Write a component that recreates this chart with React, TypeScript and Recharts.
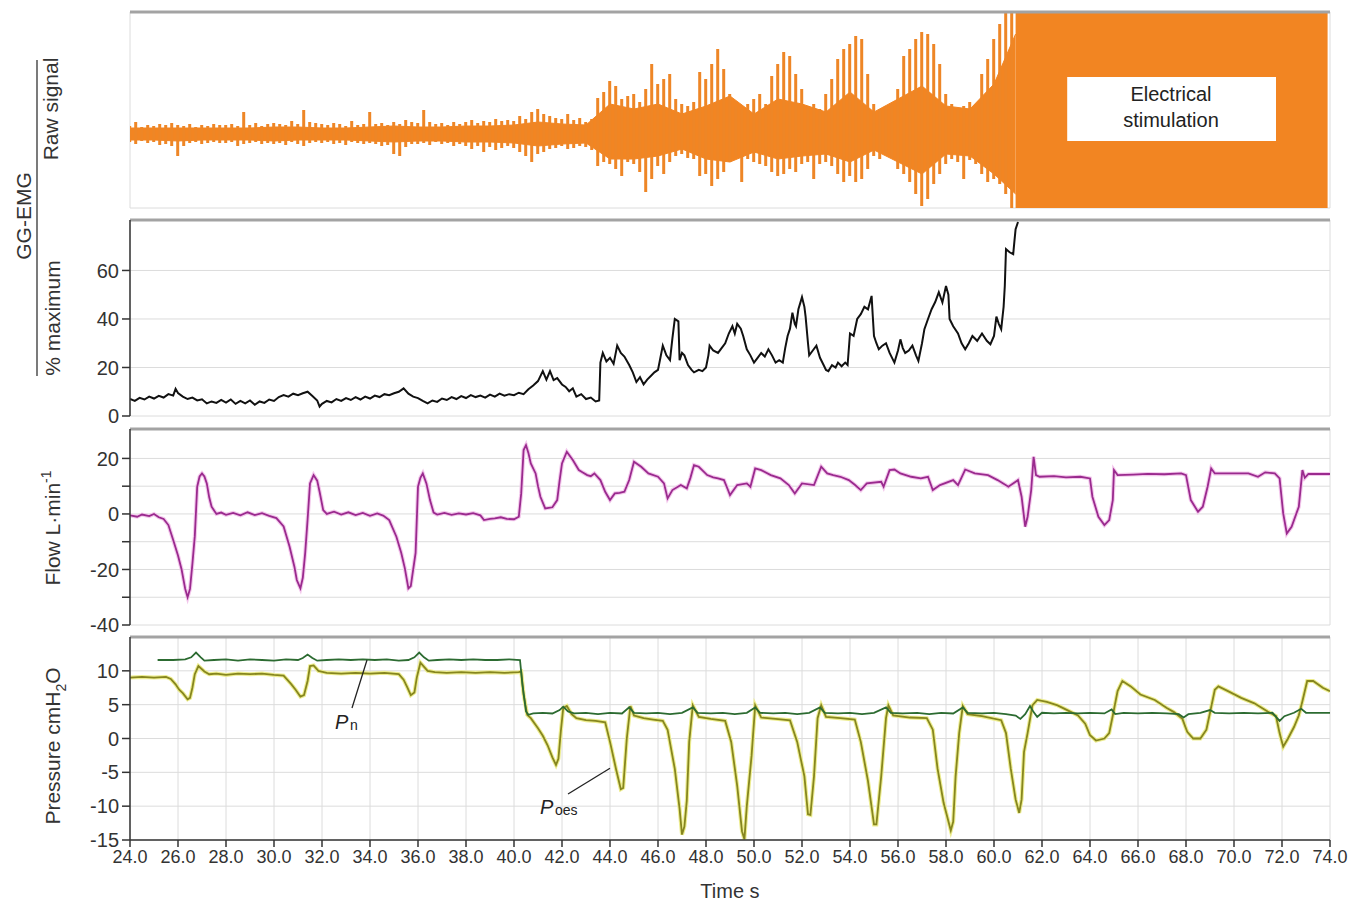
import {
  ComposedChart,
  Line,
  Area,
  Bar,
  XAxis,
  YAxis,
  CartesianGrid,
  ReferenceLine,
  ReferenceArea
} from 'recharts'

// shared time axis (s)
const timeTicks = [24, 26, 28, 30, 32, 34, 36, 38, 40, 42, 44, 46, 48, 50, 52, 54, 56, 58, 60, 62, 64, 66, 68, 70, 72, 74]

// GG-EMG raw signal: spike extremes, one value every 0.25 s from 24.0 s (arbitrary units, 0 = baseline)
const rawHigh = [
  8, 12, 7, 9, 8, 10, 9, 11,
  9, 8, 10, 7, 9, 8, 10, 9,
  9, 10, 8, 22, 9, 11, 8, 10,
  11, 10, 9, 13, 10, 24, 12, 11,
  10, 9, 11, 10, 8, 13, 9, 10,
  22, 10, 11, 9, 12, 10, 14, 12,
  11, 24, 12, 10, 11, 9, 12, 10,
  12, 14, 11, 13, 12, 15, 13, 14,
  13, 18, 15, 22, 25, 20, 18, 16,
  15, 20, 14, 16, 12, 15, 36, 42,
  53, 48, 35, 38, 40, 32, 45, 70,
  50, 55, 60, 35, 30, 28, 32, 62,
  55, 70, 85, 65, 40, 28, 25, 30,
  35, 40, 30, 58, 70, 82, 78, 60,
  45, 28, 30, 25, 40, 55, 75, 85,
  90, 98, 95, 60, 30, 25, 28, 30,
  45, 78, 85, 95, 102, 100, 90, 70,
  40, 30, 25, 28, 32, 26, 60, 75,
  95, 110, 122, 122
]
const rawLow = [
  -8, -10, -7, -9, -8, -11, -10, -12,
  -22, -12, -9, -8, -10, -9, -8, -9,
  -9, -8, -12, -10, -9, -8, -10, -9,
  -10, -9, -11, -8, -10, -12, -9, -8,
  -9, -8, -10, -9, -11, -8, -9, -10,
  -9, -10, -12, -11, -20, -22, -13, -10,
  -10, -9, -11, -8, -10, -9, -12, -10,
  -12, -15, -12, -18, -13, -16, -14, -12,
  -14, -18, -22, -28, -20, -18, -15, -14,
  -12, -15, -14, -12, -13, -16, -32, -28,
  -30, -35, -42, -28, -30, -38, -58, -45,
  -32, -40, -28, -22, -20, -24, -25, -42,
  -40, -52, -45, -38, -28, -22, -48, -25,
  -28, -30, -32, -38, -42, -40, -35, -38,
  -30, -28, -45, -30, -28, -32, -40, -48,
  -42, -48, -45, -35, -22, -25, -20, -24,
  -35, -40, -48, -60, -72, -65, -50, -40,
  -30, -25, -28, -45, -26, -30, -40, -48,
  -45, -50, -60, -74
]
// dense core of the raw signal, one value per second from 24 s
const coreTime = [24, 25, 26, 27, 28, 29, 30, 31, 32, 33, 34, 35, 36, 37, 38, 39, 40, 41, 42, 43, 44, 45, 46, 47, 48, 49, 50, 51, 52, 53, 54, 55, 56, 57, 58, 59, 60, 60.9]
const coreHigh = [6, 6, 6, 6, 6, 6, 7, 7, 6, 6, 7, 8, 7, 7, 8, 8, 9, 12, 10, 9, 30, 25, 30, 20, 28, 38, 20, 35, 30, 22, 42, 22, 35, 48, 28, 25, 50, 100]
const coreLow = [-6, -6, -7, -6, -6, -6, -7, -6, -6, -6, -7, -8, -7, -7, -8, -8, -9, -12, -10, -9, -25, -25, -22, -15, -25, -28, -18, -25, -22, -20, -28, -16, -28, -40, -20, -22, -40, -60]
// electrical stimulation saturates the channel
const stimTime = [60.9, 73.9]
const stimRange: [number, number] = [-74, 122]

// GG-EMG % maximum  [time s, %]
const emgPct: [number, number][] = [
  [24.0, 7.0], [24.2, 6.2], [24.4, 7.5], [24.6, 6.8], [24.8, 8.0], [25.0, 7.2], [25.2, 8.3], [25.4, 7.6],
  [25.6, 9.0], [25.8, 8.4], [25.9, 11.2], [26.0, 9.5], [26.2, 8.0], [26.4, 7.0], [26.6, 7.6], [26.8, 6.4],
  [27.0, 6.9], [27.2, 5.2], [27.4, 6.0], [27.6, 5.4], [27.8, 6.6], [28.0, 5.5], [28.2, 6.8], [28.4, 5.0],
  [28.6, 6.2], [28.8, 5.2], [29.0, 6.4], [29.2, 4.6], [29.4, 6.0], [29.6, 5.4], [29.8, 6.8], [30.0, 6.2],
  [30.2, 7.8], [30.4, 8.6], [30.6, 8.0], [30.8, 9.2], [31.0, 8.6], [31.2, 9.4], [31.4, 10.0], [31.6, 8.2],
  [31.8, 6.4], [31.9, 3.9], [32.0, 5.0], [32.2, 6.2], [32.4, 5.6], [32.6, 7.0], [32.8, 6.2], [33.0, 7.4],
  [33.2, 6.6], [33.4, 7.8], [33.6, 6.8], [33.8, 8.0], [34.0, 7.2], [34.2, 8.4], [34.4, 7.8], [34.6, 9.0],
  [34.8, 8.6], [35.0, 9.4], [35.2, 10.0], [35.4, 11.4], [35.6, 9.2], [35.8, 8.0], [36.0, 7.4], [36.2, 6.2],
  [36.4, 5.2], [36.6, 6.4], [36.8, 5.8], [37.0, 7.2], [37.2, 6.6], [37.4, 7.8], [37.6, 7.0], [37.8, 8.2],
  [38.0, 7.4], [38.2, 8.6], [38.4, 7.8], [38.6, 8.4], [38.8, 7.6], [39.0, 8.8], [39.2, 8.0], [39.4, 9.2],
  [39.6, 8.4], [39.8, 9.0], [40.0, 8.6], [40.2, 9.6], [40.4, 9.0], [40.6, 11.0], [40.8, 12.6], [41.0, 14.4],
  [41.2, 18.5], [41.35, 15.0], [41.5, 18.5], [41.65, 14.8], [41.8, 15.6], [42.0, 13.0], [42.15, 12.0], [42.3, 10.2],
  [42.45, 11.4], [42.6, 8.0], [42.8, 9.0], [43.0, 7.0], [43.2, 7.6], [43.4, 6.0], [43.55, 6.4], [43.6, 22.0],
  [43.7, 26.0], [43.85, 22.5], [44.0, 24.0], [44.15, 21.5], [44.3, 29.0], [44.45, 26.0], [44.6, 24.5], [44.8, 21.0],
  [44.95, 18.0], [45.1, 14.0], [45.25, 16.0], [45.4, 13.0], [45.55, 15.0], [45.7, 16.5], [45.85, 18.0], [46.0, 19.0],
  [46.1, 24.0], [46.2, 29.0], [46.35, 25.0], [46.5, 23.0], [46.6, 32.0], [46.7, 40.0], [46.85, 39.0], [46.9, 23.0],
  [47.0, 26.0], [47.1, 25.0], [47.25, 21.0], [47.4, 19.0], [47.5, 18.0], [47.7, 19.0], [47.85, 18.5], [48.0, 20.0],
  [48.1, 25.0], [48.15, 29.0], [48.3, 27.0], [48.5, 26.0], [48.65, 28.0], [48.8, 30.0], [48.95, 34.0], [49.1, 37.0],
  [49.2, 34.0], [49.3, 38.0], [49.45, 36.0], [49.55, 33.0], [49.7, 27.5], [49.85, 25.0], [50.0, 22.0], [50.15, 24.0],
  [50.3, 26.0], [50.45, 24.5], [50.6, 27.5], [50.75, 25.0], [50.9, 22.0], [51.05, 23.0], [51.2, 22.0], [51.3, 28.0],
  [51.4, 33.0], [51.5, 36.0], [51.6, 42.6], [51.7, 38.0], [51.75, 37.0], [51.85, 44.0], [52.0, 49.0], [52.1, 45.0],
  [52.15, 41.0], [52.25, 30.0], [52.3, 25.0], [52.45, 27.0], [52.6, 29.0], [52.75, 24.0], [52.9, 21.0], [53.0, 19.0],
  [53.1, 18.5], [53.25, 21.0], [53.4, 20.0], [53.5, 22.0], [53.65, 20.5], [53.8, 22.0], [53.9, 21.0], [54.0, 34.0],
  [54.15, 33.0], [54.3, 40.0], [54.45, 42.0], [54.6, 45.0], [54.75, 44.0], [54.9, 49.5], [54.95, 41.0], [55.0, 33.0],
  [55.1, 30.0], [55.2, 27.5], [55.35, 29.0], [55.5, 30.0], [55.65, 26.0], [55.85, 22.0], [56.0, 27.0], [56.1, 31.6],
  [56.2, 28.0], [56.3, 26.0], [56.45, 27.0], [56.6, 29.0], [56.75, 25.0], [56.85, 22.7], [57.0, 30.0], [57.1, 35.8],
  [57.25, 40.0], [57.4, 44.0], [57.55, 47.0], [57.7, 51.0], [57.85, 46.8], [58.0, 53.6], [58.1, 50.0], [58.15, 40.0],
  [58.3, 37.0], [58.5, 34.0], [58.65, 30.0], [58.8, 27.5], [58.95, 30.0], [59.1, 33.0], [59.3, 31.0], [59.5, 34.0],
  [59.7, 31.0], [59.85, 29.6], [60.0, 33.0], [60.1, 41.0], [60.2, 38.0], [60.3, 35.8], [60.4, 45.0], [60.45, 53.6],
  [60.5, 68.8], [60.65, 67.5], [60.8, 66.7], [60.85, 72.0], [60.9, 77.0], [61.0, 80.0]
]

// airflow  [time s, L/min]
const flow: [number, number][] = [
  [24.0, -0.5], [24.3, -1.0], [24.5, -0.2], [24.8, -0.8], [25.0, 0.0], [25.2, -1.2], [25.4, -1.8], [25.6, -4.0],
  [25.8, -9.4], [26.0, -15.0], [26.15, -20.0], [26.3, -27.0], [26.4, -30.0], [26.5, -27.0], [26.6, -18.0], [26.7, -8.0],
  [26.8, 9.8], [26.9, 13.5], [27.0, 14.6], [27.1, 13.5], [27.2, 11.0], [27.3, 6.0], [27.4, 2.6], [27.6, 0.0],
  [27.8, 0.5], [28.0, -0.3], [28.3, 0.4], [28.6, -0.5], [28.9, 0.6], [29.2, -0.4], [29.5, 0.3], [29.8, -0.7],
  [30.1, -1.5], [30.4, -4.5], [30.65, -11.8], [30.85, -19.0], [30.95, -23.8], [31.1, -26.8], [31.2, -23.0], [31.3, -14.0],
  [31.4, -2.0], [31.5, 11.0], [31.65, 14.0], [31.8, 12.0], [31.9, 8.0], [32.05, 1.4], [32.2, 0.0], [32.5, 0.8],
  [32.8, -0.2], [33.1, 0.6], [33.4, -0.4], [33.7, 0.4], [34.0, -0.7], [34.3, 0.2], [34.55, -0.6], [34.8, -2.2],
  [35.1, -8.2], [35.3, -14.0], [35.45, -19.5], [35.6, -26.8], [35.7, -26.0], [35.8, -20.0], [35.9, -14.0], [36.0, 9.8],
  [36.1, 13.0], [36.2, 14.6], [36.35, 11.0], [36.5, 5.0], [36.65, 0.5], [36.8, -0.2], [37.1, 0.4], [37.4, -0.3],
  [37.7, 0.2], [38.0, -0.2], [38.3, 0.3], [38.6, -0.5], [38.75, -2.2], [39.0, -1.8], [39.2, -1.6], [39.45, -1.2],
  [39.7, -1.8], [40.0, -1.9], [40.2, -1.0], [40.3, 7.4], [40.4, 23.0], [40.5, 24.8], [40.6, 22.0], [40.7, 18.2],
  [40.9, 14.6], [41.0, 10.0], [41.1, 6.2], [41.3, 2.0], [41.6, 2.4], [41.8, 5.0], [41.9, 12.0], [42.0, 18.2],
  [42.2, 22.4], [42.45, 19.4], [42.7, 15.8], [42.85, 15.0], [43.05, 14.0], [43.2, 13.6], [43.35, 14.6], [43.6, 12.2],
  [43.8, 8.0], [44.0, 5.0], [44.2, 7.4], [44.4, 7.6], [44.6, 8.0], [44.8, 12.2], [45.0, 18.8], [45.3, 17.0],
  [45.6, 14.6], [46.0, 13.4], [46.25, 11.0], [46.4, 5.6], [46.6, 8.6], [46.95, 10.4], [47.2, 9.2], [47.35, 13.0],
  [47.5, 17.6], [47.7, 17.0], [48.05, 14.0], [48.3, 13.2], [48.5, 12.8], [48.75, 12.2], [48.9, 9.0], [49.0, 6.8],
  [49.3, 10.4], [49.7, 11.0], [49.85, 9.8], [50.05, 16.4], [50.3, 15.8], [50.7, 14.0], [51.1, 12.8], [51.45, 10.4],
  [51.7, 7.4], [52.0, 11.0], [52.5, 10.4], [52.8, 17.0], [53.05, 14.6], [53.3, 14.0], [53.6, 13.4], [53.95, 12.2],
  [54.2, 10.5], [54.45, 8.6], [54.7, 11.0], [55.3, 11.6], [55.4, 9.8], [55.65, 15.8], [55.85, 16.0], [56.1, 14.6],
  [56.55, 13.4], [56.95, 12.8], [57.25, 13.4], [57.45, 8.6], [57.75, 10.4], [58.3, 12.2], [58.5, 10.4], [58.8, 16.0],
  [59.2, 14.6], [59.75, 14.0], [60.15, 12.2], [60.6, 9.8], [61.0, 12.2], [61.15, 6.2], [61.3, -4.6], [61.4, -1.0],
  [61.55, 8.6], [61.65, 20.6], [61.75, 14.0], [61.9, 13.4], [62.5, 13.6], [63.0, 13.2], [63.6, 13.4], [64.0, 12.8],
  [64.1, 6.2], [64.35, -1.0], [64.6, -4.0], [64.8, -2.2], [64.95, 5.0], [65.0, 15.8], [65.15, 14.0], [65.8, 14.2],
  [66.4, 14.4], [67.1, 14.3], [67.8, 14.6], [68.0, 14.0], [68.2, 5.0], [68.5, 0.8], [68.7, 2.6], [68.9, 9.8],
  [69.05, 16.4], [69.2, 14.6], [70.0, 14.6], [70.6, 14.6], [71.0, 13.4], [71.3, 15.0], [71.7, 14.6], [71.9, 12.8],
  [72.05, 0.2], [72.2, -7.0], [72.4, -4.6], [72.7, 2.6], [72.85, 15.8], [72.95, 13.0], [73.1, 14.4], [74.0, 14.4]
]

// nasal pressure Pn  [time s, cmH2O]
const pNasal: [number, number][] = [
  [25.15, 11.6], [25.8, 11.6], [26.3, 11.7], [26.55, 12.0], [26.75, 12.7], [26.95, 12.0], [27.1, 11.5], [27.5, 11.6],
  [28.0, 11.7], [28.5, 11.5], [29.0, 11.7], [29.5, 11.6], [30.0, 11.5], [30.5, 11.7], [31.0, 11.6], [31.2, 11.9],
  [31.4, 12.4], [31.6, 11.9], [31.8, 11.5], [32.2, 11.6], [32.7, 11.7], [33.2, 11.6], [33.7, 11.7], [34.2, 11.6],
  [34.7, 11.7], [35.2, 11.5], [35.6, 11.6], [35.85, 12.0], [36.05, 12.7], [36.25, 12.0], [36.45, 11.5], [36.8, 11.6],
  [37.3, 11.7], [37.8, 11.6], [38.3, 11.7], [38.8, 11.6], [39.3, 11.6], [39.8, 11.7], [40.25, 11.6], [40.35, 8.0],
  [40.5, 4.0], [40.6, 3.5], [40.8, 3.7], [41.2, 3.8], [41.6, 3.7], [41.9, 4.2], [42.05, 4.7], [42.25, 4.0],
  [42.5, 3.7], [43.0, 3.8], [43.5, 3.6], [44.0, 3.8], [44.5, 3.7], [44.8, 4.6], [45.0, 3.8], [45.5, 3.7],
  [46.0, 3.8], [46.5, 3.6], [47.0, 3.8], [47.45, 4.6], [47.65, 3.8], [48.2, 3.7], [48.7, 3.8], [49.2, 3.6],
  [49.7, 3.8], [50.05, 4.6], [50.25, 3.8], [50.8, 3.7], [51.3, 3.8], [51.8, 3.6], [52.3, 3.8], [52.75, 4.6],
  [52.95, 3.8], [53.5, 3.7], [54.0, 3.8], [54.5, 3.6], [55.0, 3.8], [55.5, 4.6], [55.7, 3.8], [56.2, 3.7],
  [56.8, 3.8], [57.3, 3.6], [57.8, 3.8], [58.3, 3.7], [58.7, 4.6], [58.9, 3.8], [59.5, 3.7], [60.0, 3.8],
  [60.5, 3.6], [60.9, 3.4], [61.1, 2.9], [61.3, 3.6], [61.5, 4.8], [61.65, 3.9], [61.8, 3.2], [62.0, 3.8],
  [62.5, 3.7], [63.0, 3.8], [63.5, 3.7], [64.0, 3.8], [64.6, 3.7], [64.9, 4.3], [65.05, 3.6], [65.4, 3.8],
  [66.0, 3.7], [66.6, 3.8], [67.2, 3.7], [67.7, 3.6], [67.9, 3.1], [68.1, 3.6], [68.6, 3.8], [69.0, 4.2],
  [69.2, 3.8], [69.8, 3.7], [70.4, 3.8], [71.0, 3.7], [71.6, 3.8], [71.9, 2.6], [72.1, 3.3], [72.5, 3.8],
  [72.8, 4.4], [73.0, 3.8], [73.5, 3.8], [74.0, 3.8]
]

// oesophageal pressure Poes  [time s, cmH2O]
const pOes: [number, number][] = [
  [24.0, 9.0], [24.5, 9.1], [25.0, 9.0], [25.5, 9.1], [25.7, 8.8], [25.9, 8.0], [26.05, 7.2], [26.2, 6.7],
  [26.4, 5.8], [26.5, 6.0], [26.6, 7.5], [26.7, 9.5], [26.85, 10.7], [27.1, 9.9], [27.3, 9.5], [27.6, 9.6],
  [28.0, 9.4], [28.5, 9.6], [29.0, 9.5], [29.5, 9.6], [30.0, 9.4], [30.4, 9.3], [30.7, 8.1], [30.9, 7.2],
  [31.1, 6.2], [31.25, 6.4], [31.4, 8.5], [31.5, 10.7], [31.65, 10.8], [31.85, 10.0], [32.2, 9.7], [32.8, 9.6],
  [33.4, 9.7], [34.0, 9.6], [34.6, 9.7], [35.2, 9.5], [35.4, 8.7], [35.55, 7.6], [35.7, 6.4], [35.85, 6.8],
  [35.95, 9.0], [36.1, 11.2], [36.4, 10.0], [36.7, 9.8], [37.2, 9.7], [37.8, 9.8], [38.4, 9.7], [39.0, 9.8],
  [39.6, 9.7], [40.2, 9.8], [40.3, 9.9], [40.4, 6.5], [40.55, 3.5], [40.7, 3.0], [41.0, 1.5], [41.2, 0.4],
  [41.4, -1.0], [41.6, -2.8], [41.75, -3.9], [41.85, -3.0], [41.95, 1.0], [42.05, 4.5], [42.2, 4.8], [42.4, 3.6],
  [42.6, 3.0], [43.0, 2.7], [43.4, 2.6], [43.8, 2.4], [44.0, -0.5], [44.25, -4.5], [44.45, -7.5], [44.55, -7.3],
  [44.7, 0.0], [44.85, 4.8], [45.0, 3.4], [45.4, 3.0], [45.8, 2.8], [46.2, 2.6], [46.4, 1.3], [46.7, -4.5],
  [46.9, -10.4], [47.0, -14.2], [47.1, -13.0], [47.2, -9.2], [47.3, -0.5], [47.45, 4.9], [47.7, 3.2], [48.2, 2.9],
  [48.8, 2.6], [49.05, -0.5], [49.3, -7.0], [49.5, -13.7], [49.6, -14.9], [49.7, -10.0], [49.9, -2.5], [50.05, 4.9],
  [50.3, 3.1], [50.9, 2.9], [51.5, 2.7], [51.8, -0.5], [52.1, -5.6], [52.25, -11.2], [52.35, -11.3], [52.5, -5.6],
  [52.65, 3.0], [52.8, 4.9], [53.0, 3.2], [53.6, 3.0], [54.2, 2.8], [54.45, -0.5], [54.75, -6.3], [55.0, -12.7],
  [55.1, -12.7], [55.3, -5.6], [55.5, 3.0], [55.6, 4.9], [55.8, 3.4], [56.5, 3.1], [57.2, 3.0], [57.45, 1.3],
  [57.65, -4.5], [57.9, -9.5], [58.2, -13.6], [58.3, -12.3], [58.4, -5.6], [58.55, 0.8], [58.7, 4.8], [58.9, 3.6],
  [59.5, 3.3], [60.3, 2.7], [60.5, 0.8], [60.7, -4.5], [60.9, -9.0], [61.05, -11.0], [61.15, -9.0], [61.25, -2.0],
  [61.4, 0.8], [61.6, 4.9], [61.8, 5.7], [62.2, 5.4], [62.65, 4.9], [63.05, 4.2], [63.5, 3.4], [63.8, 2.2],
  [64.0, 0.5], [64.25, -0.3], [64.6, 0.0], [64.8, 0.8], [64.95, 3.4], [65.15, 7.0], [65.35, 8.5], [65.7, 7.7],
  [66.1, 6.5], [66.7, 5.7], [67.2, 4.5], [67.5, 3.9], [67.85, 2.9], [68.05, 1.0], [68.3, 0.0], [68.6, 0.0],
  [68.85, 1.3], [69.0, 3.8], [69.2, 7.2], [69.35, 7.7], [69.75, 7.0], [70.3, 6.0], [70.85, 5.2], [71.4, 4.0],
  [71.75, 3.3], [71.9, 0.8], [72.05, -1.2], [72.25, 0.0], [72.5, 1.7], [72.7, 3.4], [72.85, 5.5], [73.05, 8.5],
  [73.3, 8.5], [73.7, 7.5], [74.0, 7.0]
]

const W = 1352
const GRID = '#dcdcdc'
const SEP = '#a3a3a3'
const INK = '#333'
const ORANGE = '#f28522'
const FONT = '"Liberation Sans", Arial, Helvetica, sans-serif'

type RawRow = { t: number; spike?: number[]; core?: number[]; block?: number[] }
const rawData: RawRow[] = [
  ...rawHigh.map((hi, i) => ({ t: 24 + i * 0.25, spike: [rawLow[i], hi] })),
  ...coreTime.map((t, i) => ({ t, core: [coreLow[i], coreHigh[i]] }))
].sort((a, b) => a.t - b.t)
stimTime.forEach((t) => rawData.push({ t, block: stimRange }))

const pts = (arr: [number, number][]) => arr.map(([t, v]) => ({ t, v }))
const pctData = pts(emgPct)
const flowData = pts(flow)
const pnData = pts(pNasal)
const poesData = pts(pOes)

const tickStyle = { fill: INK, fontSize: 20 }
const axisStyle = { stroke: INK, strokeWidth: 1.5 }

function xAxisHidden(lineVisible: boolean) {
  return (
    <XAxis
      type="number"
      dataKey="t"
      domain={[24, 74]}
      ticks={timeTicks}
      allowDataOverflow
      height={0}
      tick={false}
      tickLine={false}
      axisLine={lineVisible ? axisStyle : false}
    />
  )
}

export default function App() {
  return (
    <div
      style={{
        position: 'absolute',
        left: 0,
        top: 0,
        width: W,
        height: 902,
        background: '#fff',
        fontFamily: FONT,
        overflow: 'hidden'
      }}
    >
      {/* raw EMG */}
      <div style={{ position: 'absolute', left: 0, top: 0 }}>
        <ComposedChart width={W} height={215} data={rawData} margin={{ top: 12, right: 22, bottom: 7, left: 0 }}>
          <CartesianGrid stroke={GRID} />
          {xAxisHidden(false)}
          <YAxis
            type="number"
            domain={[-74, 122]}
            ticks={[-48, 0, 48, 96]}
            allowDataOverflow
            width={130}
            tick={false}
            tickLine={false}
            axisLine={false}
          />
          <ReferenceLine y={122} stroke={SEP} strokeWidth={3} />
          <Area
            dataKey="core"
            type="linear"
            connectNulls
            stroke={ORANGE}
            strokeWidth={1}
            fill={ORANGE}
            fillOpacity={1}
            dot={false}
            activeDot={false}
            isAnimationActive={false}
          />
          <Bar dataKey="spike" barSize={3} fill="#ee8626" isAnimationActive={false} />
          <Area
            dataKey="block"
            type="linear"
            stroke="none"
            fill={ORANGE}
            fillOpacity={1}
            dot={false}
            activeDot={false}
            isAnimationActive={false}
          />
          <ReferenceArea x1={63.05} x2={71.75} y1={-7} y2={57} fill="#fff" fillOpacity={1} stroke="none" zIndex={1500} />
        </ComposedChart>
      </div>

      {/* % maximum */}
      <div style={{ position: 'absolute', left: 0, top: 200 }}>
        <ComposedChart width={W} height={230} data={pctData} margin={{ top: 20, right: 22, bottom: 14, left: 0 }}>
          <CartesianGrid stroke={GRID} />
          {xAxisHidden(true)}
          <YAxis
            type="number"
            domain={[0, 80.8]}
            ticks={[0, 20, 40, 60]}
            allowDataOverflow
            width={130}
            tick={tickStyle}
            tickSize={8}
            tickMargin={3}
            tickLine={axisStyle}
            axisLine={axisStyle}
          />
          <ReferenceLine y={80.8} stroke={SEP} strokeWidth={3} />
          <Line dataKey="v" type="linear" stroke="#111" strokeWidth={2} dot={false} activeDot={false} isAnimationActive={false} />
        </ComposedChart>
      </div>

      {/* flow */}
      <div style={{ position: 'absolute', left: 0, top: 410 }}>
        <ComposedChart width={W} height={230} data={flowData} margin={{ top: 19, right: 22, bottom: 15, left: 0 }}>
          <CartesianGrid stroke={GRID} />
          {xAxisHidden(true)}
          <YAxis
            type="number"
            domain={[-40, 30.6]}
            ticks={[-40, -30, -20, -10, 0, 10, 20]}
            tickFormatter={(v: number) => (v % 20 === 0 ? String(v) : '')}
            allowDataOverflow
            width={130}
            tick={tickStyle}
            tickSize={8}
            tickMargin={3}
            tickLine={axisStyle}
            axisLine={axisStyle}
          />
          <ReferenceLine y={30.6} stroke={SEP} strokeWidth={3} />
          <Line dataKey="v" type="linear" stroke="#f3c8ec" strokeWidth={4} dot={false} activeDot={false} isAnimationActive={false} />
          <Line dataKey="v" type="linear" stroke="#9a2a8e" strokeWidth={1.8} dot={false} activeDot={false} isAnimationActive={false} />
        </ComposedChart>
      </div>

      {/* pressures */}
      <div style={{ position: 'absolute', left: 0, top: 617 }}>
        <ComposedChart width={W} height={285} margin={{ top: 20, right: 22, bottom: 0, left: 0 }}>
          <CartesianGrid stroke={GRID} />
          <XAxis
            type="number"
            dataKey="t"
            domain={[24, 74]}
            ticks={timeTicks}
            allowDataOverflow
            height={62}
            tickFormatter={(v: number) => v.toFixed(1)}
            tick={{ fill: INK, fontSize: 18 }}
            tickSize={7}
            tickMargin={3}
            tickLine={axisStyle}
            axisLine={axisStyle}
            interval={0}
            label={{ value: 'Time s', position: 'insideBottom', offset: 4, fill: INK, fontSize: 20 }}
          />
          <YAxis
            type="number"
            domain={[-15, 15]}
            ticks={[-15, -10, -5, 0, 5, 10]}
            allowDataOverflow
            width={130}
            tick={tickStyle}
            tickSize={8}
            tickMargin={3}
            tickLine={axisStyle}
            axisLine={axisStyle}
          />
          <ReferenceLine y={15} stroke={SEP} strokeWidth={3} />
          <Line data={poesData} dataKey="v" type="linear" stroke="#eded90" strokeWidth={4} dot={false} activeDot={false} isAnimationActive={false} />
          <Line data={poesData} dataKey="v" type="linear" stroke="#86861f" strokeWidth={1.8} dot={false} activeDot={false} isAnimationActive={false} />
          <Line data={pnData} dataKey="v" type="linear" stroke="#2c6b31" strokeWidth={1.8} dot={false} activeDot={false} isAnimationActive={false} />
          <ReferenceLine segment={[{ x: 33.25, y: 4.5 }, { x: 33.875, y: 11.6 }]} stroke="#222" strokeWidth={1.3} />
          <ReferenceLine segment={[{ x: 42.25, y: -8.2 }, { x: 44.0, y: -4.4 }]} stroke="#222" strokeWidth={1.3} />
        </ComposedChart>
      </div>

      {/* titles and annotations */}
      <svg width={W} height={902} style={{ position: 'absolute', left: 0, top: 0, pointerEvents: 'none' }}>
        <g fill={INK} fontFamily={FONT}>
          <text transform="translate(31,216) rotate(-90)" textAnchor="middle" fontSize={21}>GG-EMG</text>
          <line x1={37} y1={60} x2={37} y2={376} stroke={INK} strokeWidth={1.3} />
          <text transform="translate(58,109) rotate(-90)" textAnchor="middle" fontSize={21}>Raw signal</text>
          <text transform="translate(60,318) rotate(-90)" textAnchor="middle" fontSize={21}>% maximum</text>
          <text transform="translate(60,528) rotate(-90)" textAnchor="middle" fontSize={21}>
            Flow L·min<tspan fontSize={14} dy={-9}>-1</tspan>
          </text>
          <text transform="translate(60,746) rotate(-90)" textAnchor="middle" fontSize={21}>
            Pressure cmH<tspan fontSize={14} dy={6}>2</tspan><tspan dy={-6}>O</tspan>
          </text>
          <text x={1171} y={101} textAnchor="middle" fontSize={20} fill="#222">Electrical</text>
          <text x={1171} y={127} textAnchor="middle" fontSize={20} fill="#222">stimulation</text>
          <text x={335} y={729} fontSize={20} fontStyle="italic" fill="#222">P</text>
          <text x={350} y={730} fontSize={14} fill="#222">n</text>
          <text x={540} y={814} fontSize={20} fontStyle="italic" fill="#222">P</text>
          <text x={555} y={815} fontSize={14} fill="#222">oes</text>
        </g>
      </svg>
    </div>
  )
}
